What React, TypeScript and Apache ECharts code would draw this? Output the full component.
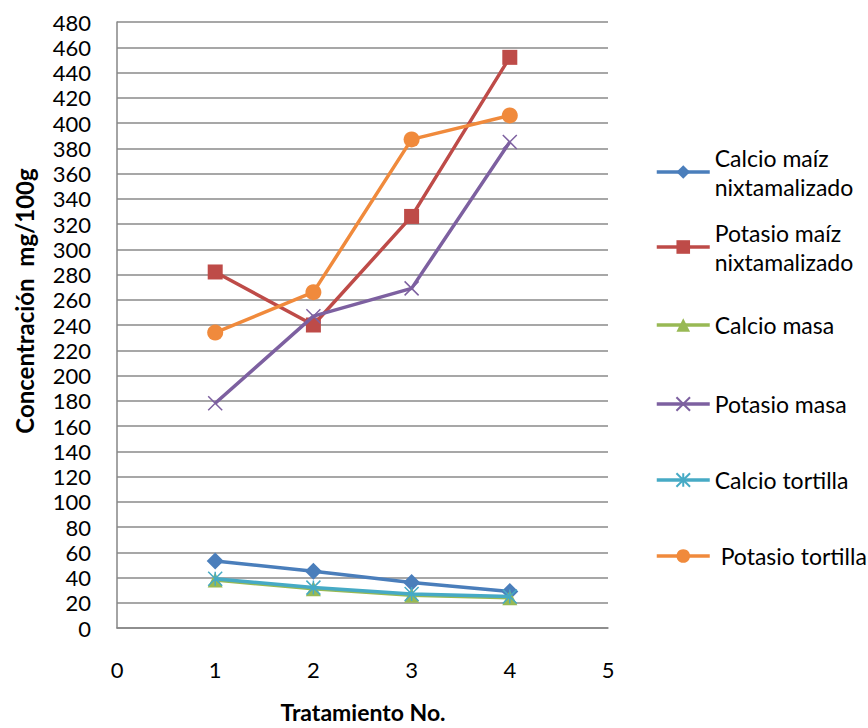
import React, { useEffect, useRef } from "react";
import * as echarts from "echarts";

// ---- data ----
const treatments = [1, 2, 3, 4];
const xTicks = [0, 1, 2, 3, 4, 5];
const seriesNames = [
  "Calcio maíz nixtamalizado",
  "Potasio maíz nixtamalizado",
  "Calcio masa",
  "Potasio masa",
  "Calcio tortilla",
  "Potasio tortilla",
];
const legendLabels = [
  "Calcio maíz\nnixtamalizado",
  "Potasio maíz\nnixtamalizado",
  "Calcio masa",
  "Potasio masa",
  "Calcio tortilla",
  " Potasio tortilla",
];
const calcioMaiz = [53, 45, 36, 29];
const potasioMaiz = [282, 240, 326, 452];
const calcioMasa = [38, 31, 26, 24];
const potasioMasa = [178, 247, 269, 385];
const calcioTortilla = [39, 32, 27, 25];
const potasioTortilla = [234, 266, 387, 406];
const yTitle = "Concentración  mg/100g";
const xTitle = "Tratamiento No.";

const allValues = [calcioMaiz, potasioMaiz, calcioMasa, potasioMasa, calcioTortilla, potasioTortilla];
const colors = ["#4A7EBB", "#BE4B48", "#98B954", "#7D60A0", "#46AAC5", "#F08A3C"];
const symbols = [
  "diamond",
  "rect",
  "triangle",
  "path://M0,0L10,10M10,0L0,10",
  "path://M5,0L5,10M0,0L10,10M10,0L0,10",
  "circle",
];
const symbolSizes = [17, 15, 15, 14, 14, 16];
const legendCenters = [172, 247, 325, 404, 480, 556];

const FONT = "Lato, 'Open Sans', sans-serif";

export default function App() {
  const ref = useRef<HTMLDivElement>(null);
  useEffect(() => {
    if (!ref.current) return;
    const chart = echarts.init(ref.current, undefined, { renderer: "svg" });
    const series = seriesNames.map((name, i) => ({
      name,
      type: "line",
      data: treatments.map((t, j) => [t, allValues[i][j]]),
      symbol: symbols[i],
      symbolSize: symbolSizes[i],
      showSymbol: true,
      lineStyle: { color: colors[i], width: 3.5 },
      itemStyle: {
        color: colors[i],
        borderColor: colors[i],
        borderWidth: i === 3 || i === 4 ? 1.5 : 0,
      },
      z: 2 + i,
    }));
    const legends = seriesNames.map((name, i) => {
      const twoLine = legendLabels[i].includes("\n");
      return {
        data: [name],
        left: 655,
        top: legendCenters[i] - (twoLine ? 43.5 : 14.5),
        padding: 0,
        itemWidth: 53,
        itemHeight: 17,
        selectedMode: false,
        lineStyle: { width: 3.5 },
        formatter: () => legendLabels[i],
        textStyle: {
          fontFamily: FONT,
          fontSize: 23,
          color: "#000",
          lineHeight: 29,
          padding: twoLine ? [29, 0, 0, 0] : 0,
        },
      };
    });
    chart.setOption({
      animation: false,
      backgroundColor: "#fff",
      textStyle: { fontFamily: FONT },
      grid: { left: 117, right: 260, top: 22, bottom: 100, containLabel: false },
      legend: legends,
      xAxis: {
        type: "value",
        min: xTicks[0],
        max: xTicks[xTicks.length - 1],
        interval: 1,
        axisLine: { show: true, lineStyle: { color: "#868686", width: 1.5 } },
        axisTick: { show: false },
        splitLine: { show: false },
        axisLabel: { margin: 30, fontSize: 22, color: "#000", fontFamily: FONT },
      },
      yAxis: {
        type: "value",
        min: 0,
        max: 480,
        interval: 20,
        axisLine: { show: true, lineStyle: { color: "#868686", width: 1.5 } },
        axisTick: { show: false },
        splitLine: { show: true, lineStyle: { color: "#8a8a8a", width: 1.5 } },
        axisLabel: { margin: 26, fontSize: 22, color: "#000", fontFamily: FONT },
      },
      graphic: [
        {
          type: "text",
          x: 24,
          y: 301,
          rotation: Math.PI / 2,
          style: {
            text: yTitle,
            fontFamily: FONT,
            fontWeight: "bold",
            fontSize: 24,
            fill: "#000",
            align: "center",
            verticalAlign: "middle",
          },
        },
        {
          type: "text",
          x: 363,
          y: 712,
          style: {
            text: xTitle,
            fontFamily: FONT,
            fontWeight: "bold",
            fontSize: 23,
            fill: "#000",
            align: "center",
            verticalAlign: "middle",
          },
        },
      ],
      series,
    });
    return () => chart.dispose();
  }, []);
  return (
    <div
      ref={ref}
      style={{ position: "fixed", left: 0, top: 0, width: 868, height: 728 }}
    />
  );
}
